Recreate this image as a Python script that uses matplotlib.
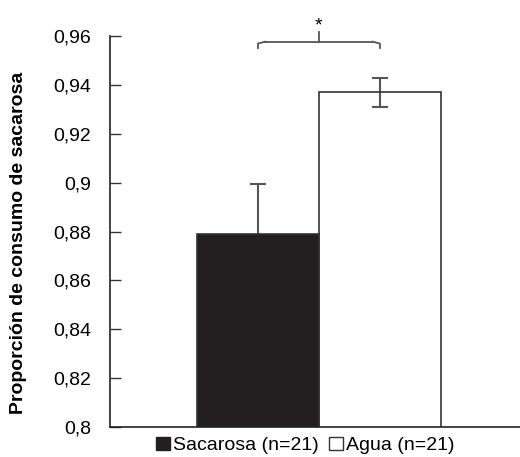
import numpy as np
import matplotlib
matplotlib.use("Agg")
import matplotlib.pyplot as plt
from matplotlib.patches import Patch
from matplotlib.ticker import FixedLocator

plt.rcParams['font.family'] = ['Liberation Sans', 'DejaVu Sans']

groups = ["Sacarosa (n=21)", "Agua (n=21)"]
means = [0.879, 0.937]
errors = [0.0205, 0.006]
yticks = [0.8, 0.82, 0.84, 0.86, 0.88, 0.9, 0.92, 0.94, 0.96]
ytick_labels = ["0,8", "0,82", "0,84", "0,86", "0,88", "0,9", "0,92", "0,94", "0,96"]
bracket_y = 0.9577
sig_label = "*"

fig = plt.figure(figsize=(5.2, 4.57), dpi=100)
ax = fig.add_axes([0.2106, 0.0656, 0.7894, 0.8556])

x = np.arange(len(groups))
face = ["#231f20", "none"]
ax.bar(x, means, width=1.0, color=face, edgecolor="#333333", linewidth=1.2, zorder=2)
ax.errorbar(x, means, yerr=errors, fmt="none", ecolor="#555555", elinewidth=1.5,
            capsize=6, capthick=1.5, zorder=1)

# significance bracket
lc = "#555555"
d = 0.0026
r = 0.06
ax.plot([x[0], x[0], x[0] + r], [bracket_y - d, bracket_y - 0.0008, bracket_y],
        color=lc, lw=1.3, clip_on=False, solid_joinstyle="round")
ax.plot([x[1], x[1], x[1] - r], [bracket_y - d, bracket_y - 0.0008, bracket_y],
        color=lc, lw=1.3, clip_on=False, solid_joinstyle="round")
ax.plot([x[0] + r, x[1] - r], [bracket_y, bracket_y], color=lc, lw=1.3, clip_on=False)
mid = (x[0] + x[1]) / 2
ax.plot([mid, mid], [bracket_y, bracket_y + 0.0039], color=lc, lw=1.3, clip_on=False)
ax.text(mid, bracket_y + 0.0066, sig_label, ha="center", va="center", fontsize=14)

ax.set_xlim(-1.217, 2.148)
ax.set_ylim(0.8, 0.96)
ax.yaxis.set_major_locator(FixedLocator(yticks))
ax.set_yticklabels(ytick_labels, fontsize=14)
ax.tick_params(axis="y", direction="in", length=8, width=1, color="#333333", pad=13.5)
ax.set_xticks([])
for s in ["top", "right"]:
    ax.spines[s].set_visible(False)
for s in ["left", "bottom"]:
    ax.spines[s].set_color("#222222")
    ax.spines[s].set_linewidth(1.2)

fig.text(19 / 520, 1 - 243 / 457, "Proporción de consumo de sacarosa", rotation=90,
         ha="center", va="center", fontsize=14, fontweight="bold")

handles = [Patch(facecolor="#231f20", edgecolor="#231f20"),
           Patch(facecolor="white", edgecolor="#333333")]
ax.legend(handles, groups, loc="center", bbox_to_anchor=(0.477, -0.047), ncol=2,
          frameon=False, fontsize=14, handlelength=0.72, handleheight=0.72,
          handletextpad=0.15, columnspacing=0.55, borderaxespad=0)

fig.savefig("out.png", dpi=100)
